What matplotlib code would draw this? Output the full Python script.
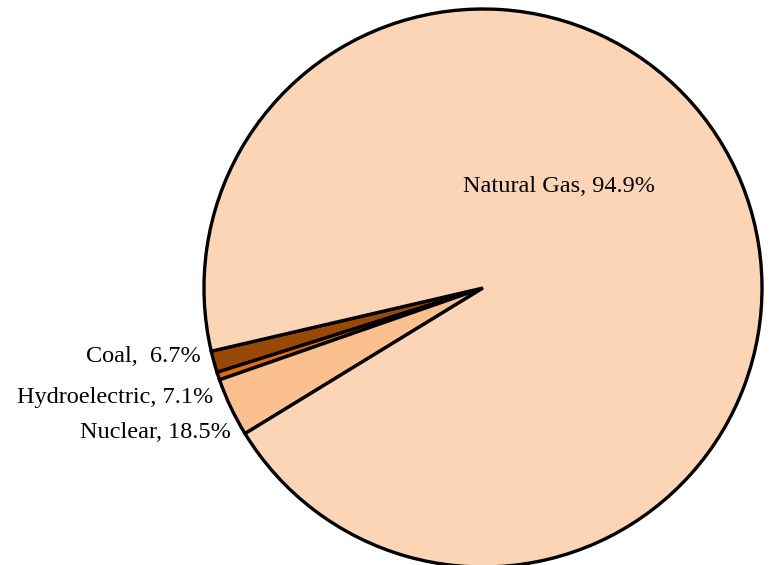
import matplotlib.pyplot as plt

# Energy sources, listed counterclockwise starting from the coal slice
sources = ["Coal", "Hydroelectric", "Nuclear", "Natural Gas"]
shares = [1.25, 0.45, 3.4, 94.9]  # slice sizes
label_texts = ["Coal,  6.7%", "Hydroelectric, 7.1%", "Nuclear, 18.5%", "Natural Gas, 94.9%"]
colors = ["#984807", "#E46C0A", "#FAC090", "#FBD5B5"]

plt.rcParams['font.family'] = ['Liberation Serif', 'DejaVu Serif']

fig = plt.figure(figsize=(7.72, 5.65), dpi=100)
ax = fig.add_axes([0, 0, 1, 1])

ax.pie(shares, colors=colors, startangle=193.1, counterclock=True,
       center=(483, 277), radius=279, frame=True,
       wedgeprops=dict(edgecolor='black', linewidth=2.4))
ax.set_xlim(0, 772)
ax.set_ylim(0, 565)
ax.set_aspect('equal')
ax.axis('off')

# label positions (pixels from left, from bottom)
label_pos = [(201, 209), (213, 167), (231, 132), (463, 378)]
label_ha = ["right", "right", "right", "left"]
for txt, (x, y), ha in zip(label_texts, label_pos, label_ha):
    ax.text(x, y, txt, ha=ha, va='center', fontsize=17.5, color='black')

fig.savefig("out.png", dpi=100)
